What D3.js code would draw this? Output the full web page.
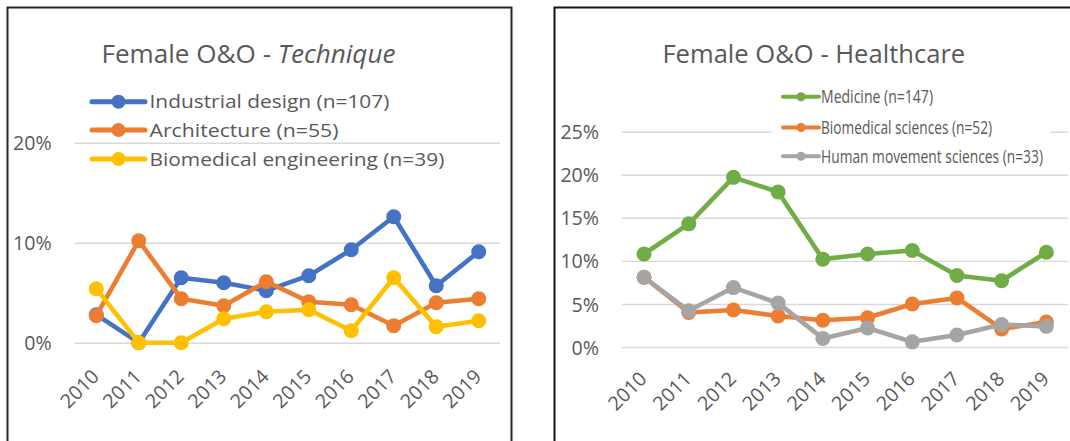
<!DOCTYPE html>
<html><head><meta charset="utf-8">
<script src="https://cdn.jsdelivr.net/npm/d3@7"></script>
<style>body{margin:0;background:#fff;overflow:hidden}</style>
</head><body><svg id="c" width="1070" height="441"></svg>
<script>
// ---- data ----
const years = ["2010","2011","2012","2013","2014","2015","2016","2017","2018","2019"];
const industrialDesign   = [0.028, 0.000, 0.065, 0.060, 0.052, 0.067, 0.093, 0.126, 0.057, 0.091];
const architecture       = [0.027, 0.102, 0.044, 0.037, 0.061, 0.041, 0.038, 0.017, 0.040, 0.044];
const biomedEngineering  = [0.054, 0.000, 0.000, 0.024, 0.031, 0.033, 0.012, 0.065, 0.016, 0.022];
const medicine           = [0.108, 0.143, 0.197, 0.180, 0.102, 0.108, 0.112, 0.083, 0.077, 0.110];
const biomedSciences     = [0.081, 0.040, 0.043, 0.036, 0.031, 0.034, 0.050, 0.057, 0.021, 0.029];
const humanMovement      = [0.081, 0.042, 0.069, 0.051, 0.010, 0.022, 0.006, 0.014, 0.026, 0.024];
const leftTicks  = [0, 0.10, 0.20];
const rightTicks = [0, 0.05, 0.10, 0.15, 0.20, 0.25];
const leftNames  = ["Industrial design (n=107)", "Architecture (n=55)", "Biomedical engineering (n=39)"];
const rightNames = ["Medicine (n=147)", "Biomedical sciences (n=52)", "Human movement sciences (n=33)"];

const FONT = "'Open Sans', sans-serif";
const TXT = "#595959";
const svg = d3.select("#c");

function fitWidth(sel, x, y, w) {
  const bw = sel.node().getComputedTextLength();
  sel.attr("transform", `translate(${x},${y}) scale(${w / bw},1)`);
}

// panel borders
svg.append("rect").attr("x", 7.5).attr("y", 7.5).attr("width", 504).attr("height", 520)
  .attr("fill", "none").attr("stroke", "#262626").attr("stroke-width", 2);
svg.append("rect").attr("x", 554.5).attr("y", 7.5).attr("width", 600).attr("height", 520)
  .attr("fill", "none").attr("stroke", "#111").attr("stroke-width", 2);

function drawPanel(cfg) {
  const g = svg.append("g");
  const x = d3.scaleBand().domain(years).range([cfg.x0, cfg.x1]);
  const y = d3.scaleLinear().domain([0, cfg.max]).range([cfg.yZero, cfg.yTop]);

  // y axis with gridlines
  const ya = g.append("g").attr("transform", `translate(${cfg.x0},0)`)
    .call(d3.axisLeft(y).tickValues(cfg.ticks).tickFormat(d3.format(".0%"))
      .tickSizeInner(-(cfg.gridRight - cfg.x0)).tickSizeOuter(0).tickPadding(cfg.x0 - cfg.labelRight));
  ya.select(".domain").remove();
  ya.selectAll(".tick line").attr("stroke", "#d9d9d9").attr("stroke-width", 1.4);
  ya.selectAll(".tick text").attr("fill", TXT).attr("font-family", FONT)
    .attr("font-size", cfg.tickSize).attr("dy", "0.36em");

  // legend background (drawn over gridlines)
  if (cfg.legendBox) {
    g.append("rect").attr("x", cfg.legendBox[0]).attr("y", cfg.legendBox[1])
      .attr("width", cfg.legendBox[2]).attr("height", cfg.legendBox[3]).attr("fill", "#fff");
  }

  // x axis
  const xa = g.append("g").attr("transform", `translate(0,${cfg.yZero})`)
    .call(d3.axisBottom(x).tickSize(0));
  xa.select(".domain").remove();
  xa.selectAll(".tick text").attr("fill", TXT).attr("font-family", FONT)
    .attr("font-size", cfg.tickSize).attr("text-anchor", "end")
    .attr("x", 0).attr("y", 0).attr("dy", 0)
    .attr("transform", `translate(${cfg.labDx},${cfg.labDy}) rotate(-45)`);

  // series
  const line = d3.line().x((d, i) => x(years[i]) + x.bandwidth() / 2).y(d => y(d));
  cfg.series.forEach(s => {
    g.append("path").datum(s.values).attr("d", line).attr("fill", "none")
      .attr("stroke", s.color).attr("stroke-width", 4.6)
      .attr("stroke-linejoin", "round").attr("stroke-linecap", "round");
    g.selectAll(null).data(s.values).enter().append("circle")
      .attr("cx", (d, i) => x(years[i]) + x.bandwidth() / 2).attr("cy", d => y(d))
      .attr("r", 7.5).attr("fill", s.color);
  });

  // title
  const t = g.append("text").attr("font-family", FONT).attr("font-size", 25.6).attr("fill", TXT);
  t.append("tspan").text(cfg.title[0]);
  if (cfg.title[1]) t.append("tspan").attr("font-style", "italic").text(cfg.title[1]);
  fitWidth(t, cfg.titleX, 63.3, cfg.titleW);

  // legend
  const L = cfg.legend;
  cfg.series.forEach((s, i) => {
    const cy = L.rows[i];
    g.append("line").attr("x1", L.lx1).attr("x2", L.lx2).attr("y1", cy).attr("y2", cy)
      .attr("stroke", s.color).attr("stroke-width", L.lw).attr("stroke-linecap", "round");
    g.append("circle").attr("cx", (L.lx1 + L.lx2) / 2).attr("cy", cy).attr("r", L.r).attr("fill", s.color);
    const tx = g.append("text").attr("font-family", FONT).attr("font-size", L.size)
      .attr("fill", TXT).text(s.name);
    fitWidth(tx, L.tx, cy + L.size * 0.357, L.widths[i]);
  });
}

drawPanel({
  x0: 75, x1: 500, gridRight: 500, yZero: 342.7, yTop: 142.7, max: 0.20,
  ticks: leftTicks, labelRight: 51.7, tickSize: 19.6, labDx: 4, labDy: 35,
  title: ["Female O&O - ", "Technique"], titleX: 101.5, titleW: 294,
  series: [
    {name: leftNames[0], values: industrialDesign, color: "#4472C4"},
    {name: leftNames[1], values: architecture, color: "#ED7D31"},
    {name: leftNames[2], values: biomedEngineering, color: "#FFC000"}
  ],
  legend: {lx1: 92, lx2: 145, rows: [101.7, 130, 159], r: 7, lw: 5, tx: 149.5, size: 18.6,
           widths: [240, 189, 295]}
});

drawPanel({
  x0: 621.7, x1: 1068.7, gridRight: 1068, yZero: 347, yTop: 131.7, max: 0.25,
  ticks: rightTicks, labelRight: 599, tickSize: 19.6, labDx: 4, labDy: 33,
  title: ["Female O&O - Healthcare"], titleX: 662.4, titleW: 303,
  legendBox: [771.5, 80, 279, 88],
  series: [
    {name: rightNames[0], values: medicine, color: "#70AD47"},
    {name: rightNames[1], values: biomedSciences, color: "#ED7D31"},
    {name: rightNames[2], values: humanMovement, color: "#A5A5A5"}
  ],
  legend: {lx1: 783, lx2: 819, rows: [96.7, 127.5, 156.2], r: 4.5, lw: 4, tx: 821, size: 18.2,
           widths: [112, 171, 222]}
});
</script></body></html>
